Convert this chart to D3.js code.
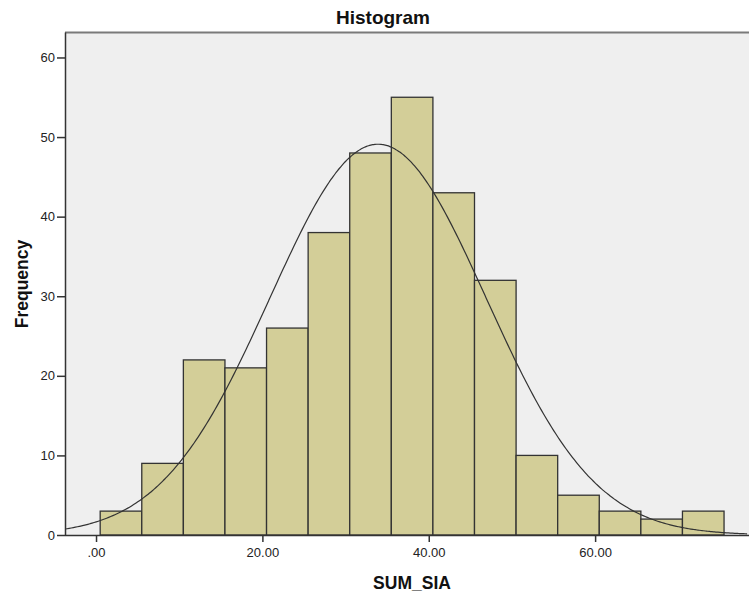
<!DOCTYPE html>
<html>
<head>
<meta charset="utf-8">
<script src="https://cdn.jsdelivr.net/npm/d3@7"></script>
<style>
  body { margin: 0; background: #fff; }
  svg { display: block; font-family: "Liberation Sans", Arial, sans-serif; }
</style>
</head>
<body>
<div id="chart"></div>
<script>
// bin edges (lower bound of each bin) and counts
const binStarts = [0.5, 5.5, 10.5, 15.5, 20.5, 25.5, 30.5, 35.5, 40.5, 45.5, 50.5, 55.5, 60.5, 65.5, 70.5];
const counts = [3, 9, 22, 21, 26, 38, 48, 55, 43, 32, 10, 5, 3, 2, 3];
const binWidth = 5;
const xTicks = [0, 20, 40, 60];
const yTicks = [0, 10, 20, 30, 40, 50, 60];
const curveMean = 33.9;
const curveSd = 13.0;

const width = 749, height = 594;
const margin = { top: 32, right: 0, bottom: 59, left: 65 };

const svg = d3.select("#chart").append("svg")
    .attr("width", width)
    .attr("height", height);

const x = d3.scaleLinear().domain([-3.73, 78.5]).range([margin.left, width - margin.right]);
const y = d3.scaleLinear().domain([0, 63.2]).range([height - margin.bottom, margin.top]);

// plot background
svg.append("rect")
    .attr("x", margin.left)
    .attr("y", margin.top)
    .attr("width", width - margin.left - margin.right)
    .attr("height", height - margin.top - margin.bottom)
    .attr("fill", "#efefef");

// top frame line
svg.append("line")
    .attr("x1", margin.left).attr("x2", width)
    .attr("y1", margin.top + 0.5).attr("y2", margin.top + 0.5)
    .attr("stroke", "#7a7a7a").attr("stroke-width", 2);

const bins = binStarts.map((s, i) => ({ x0: s, x1: s + binWidth, n: counts[i] }));

svg.selectAll("rect.bar")
    .data(bins)
    .enter().append("rect")
    .attr("class", "bar")
    .attr("x", d => x(d.x0))
    .attr("y", d => y(d.n))
    .attr("width", d => x(d.x1) - x(d.x0))
    .attr("height", d => y(0) - y(d.n))
    .attr("fill", "#d3ce98")
    .attr("stroke", "#333")
    .attr("stroke-width", 1.3);

// normal curve scaled to the counts
const total = d3.sum(counts);
const pts = d3.range(-3.73, 78.51, 0.25).map(v => [v,
    total * binWidth / (curveSd * Math.sqrt(2 * Math.PI)) *
    Math.exp(-0.5 * Math.pow((v - curveMean) / curveSd, 2))]);

svg.append("path")
    .datum(pts)
    .attr("fill", "none")
    .attr("stroke", "#333")
    .attr("stroke-width", 1.2)
    .attr("d", d3.line().x(d => x(d[0])).y(d => y(d[1])).curve(d3.curveBasis));

// axes
const xAxis = svg.append("g")
    .attr("transform", `translate(0,${y(0)})`)
    .call(d3.axisBottom(x).tickValues(xTicks).tickSize(7).tickSizeOuter(0)
        .tickFormat(d => d === 0 ? ".00" : d3.format(".2f")(d)));
xAxis.select(".domain").attr("stroke", "#333").attr("stroke-width", 1.5)
    .attr("d", `M${margin.left},0.5H${width}`);
xAxis.selectAll(".tick line").attr("stroke", "#333").attr("stroke-width", 1.5);
xAxis.selectAll(".tick text").attr("font-size", 13).attr("fill", "#222").attr("dy", "0.95em");

const yAxis = svg.append("g")
    .attr("transform", `translate(${margin.left},0)`)
    .call(d3.axisLeft(y).tickValues(yTicks).tickSize(8).tickSizeOuter(0));
yAxis.select(".domain").attr("stroke", "#333").attr("stroke-width", 1.5);
yAxis.selectAll(".tick line").attr("stroke", "#333").attr("stroke-width", 1.5);
yAxis.selectAll(".tick text").attr("font-size", 13).attr("fill", "#222").attr("x", -10);

// titles
svg.append("text")
    .attr("x", 383).attr("y", 24)
    .attr("text-anchor", "middle")
    .attr("font-size", 19).attr("font-weight", "bold").attr("fill", "#111")
    .text("Histogram");

svg.append("text")
    .attr("x", 412).attr("y", 589)
    .attr("text-anchor", "middle")
    .attr("font-size", 17.5).attr("font-weight", "bold").attr("fill", "#111")
    .text("SUM_SIA");

svg.append("text")
    .attr("transform", "translate(28,284) rotate(-90)")
    .attr("text-anchor", "middle")
    .attr("font-size", 17.5).attr("font-weight", "bold").attr("fill", "#111")
    .text("Frequency");
</script>
</body>
</html>
